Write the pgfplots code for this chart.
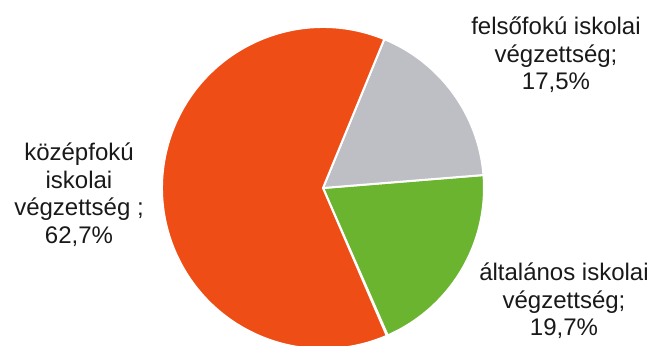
\documentclass[border=0pt]{standalone}
\usepackage{pgfplots}
\usepackage{pgfplotstable}
\pgfplotsset{compat=1.18}
\usepackage{fontspec}
\setmainfont{Liberation Sans}
\definecolor{cOrange}{HTML}{EE4E16}
\definecolor{cGray}{HTML}{BDBFC5}
\definecolor{cGreen}{HTML}{6BB430}
\pgfplotstableread{
name value
altalanos 19.7
felsofoku 17.5
kozepfoku 62.7
}\piedata
\begin{document}
\begin{tikzpicture}
\pgfplotstablegetelem{0}{value}\of\piedata \let\vA\pgfplotsretval
\pgfplotstablegetelem{1}{value}\of\piedata \let\vB\pgfplotsretval
\pgfplotstablegetelem{2}{value}\of\piedata \let\vC\pgfplotsretval
\pgfmathsetmacro\aA{-66.3}
\pgfmathsetmacro\aB{\aA+3.6*\vA}
\pgfmathsetmacro\aC{\aB+3.6*\vB}
\pgfmathsetmacro\aD{\aC+3.6*\vC}
\begin{axis}[width=652pt,height=345pt,scale only axis,
  xmin=0,xmax=652,ymin=0,ymax=345,hide axis,clip=true]
\fill[cGreen, draw=white, line width=2pt] (axis cs:323,157) -- ++(\aA:161pt) arc[start angle=\aA, end angle=\aB, radius=161pt] -- cycle;
\fill[cGray, draw=white, line width=2pt] (axis cs:323,157) -- ++(\aB:161pt) arc[start angle=\aB, end angle=\aC, radius=161pt] -- cycle;
\fill[cOrange, draw=white, line width=2pt] (axis cs:323,157) -- ++(\aC:161pt) arc[start angle=\aC, end angle=\aD, radius=161pt] -- cycle;
\node[align=center, font=\fontsize{24}{27.5}\selectfont, text=black!90] at (axis cs:79,150.5) {középfokú\\iskolai\\végzettség ;\\62,7\%};
\node[align=center, font=\fontsize{24}{27.5}\selectfont, text=black!90] at (axis cs:556,290) {felsőfokú iskolai\\végzettség;\\17,5\%};
\node[align=center, font=\fontsize{24}{27.5}\selectfont, text=black!90] at (axis cs:564,44) {általános iskolai\\végzettség;\\19,7\%};
\end{axis}
\pgfresetboundingbox
\path[use as bounding box] (current axis.south west) rectangle (current axis.north east);
\end{tikzpicture}
\end{document}
